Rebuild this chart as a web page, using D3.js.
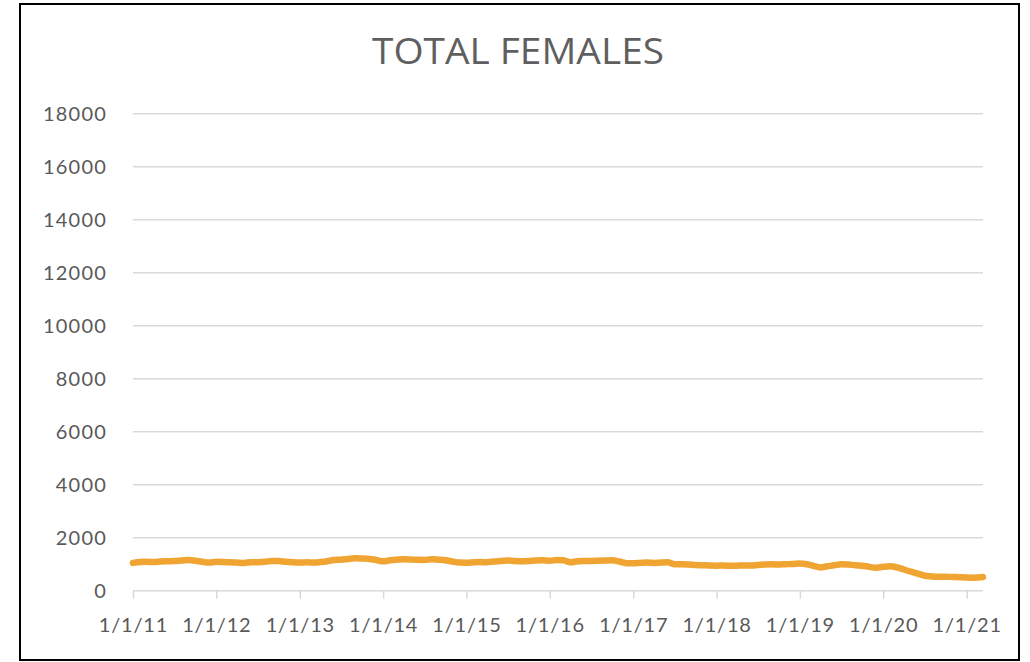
<!DOCTYPE html>
<html>
<head>
<meta charset="utf-8">
<script src="https://cdn.jsdelivr.net/npm/d3@7"></script>
<style>
  body { margin: 0; background: #fff; }
  svg { display: block; }
</style>
</head>
<body>
<div id="chart"></div>
<script>
var wi = 1030;
var he = 662;

var chartTitle = "TOTAL FEMALES";
var startMonth = "2011-01";
var yTicks = [0, 2000, 4000, 6000, 8000, 10000, 12000, 14000, 16000, 18000];
var xTickYears = [2011, 2012, 2013, 2014, 2015, 2016, 2017, 2018, 2019, 2020, 2021];

// monthly totals, Jan 2011 .. Mar 2021
var females = [
  1050, 1080, 1090, 1080, 1100, 1110, 1120, 1140, 1160, 1130, 1090, 1060, // 2011
  1090, 1080, 1075, 1060, 1050, 1070, 1075, 1090, 1125, 1120, 1090, 1070, // 2012
  1060, 1070, 1060, 1080, 1110, 1160, 1170, 1200, 1220, 1215, 1200, 1160, // 2013
  1110, 1150, 1170, 1185, 1180, 1165, 1160, 1185, 1170, 1150, 1100, 1060, // 2014
  1055, 1070, 1080, 1075, 1100, 1120, 1140, 1120, 1110, 1120, 1140, 1150, // 2015
  1130, 1160, 1150, 1070, 1110, 1125, 1120, 1130, 1140, 1150, 1100, 1040, // 2016
  1035, 1050, 1060, 1050, 1060, 1070, 1000, 1000, 990, 970, 960, 950,     // 2017
  945, 950, 940, 945, 950, 950, 970, 990, 995, 990, 1000, 1010,           // 2018
  1030, 1000, 940, 880, 920, 960, 995, 990, 960, 945, 900, 870,           // 2019
  900, 920, 880, 800, 717, 640, 566, 540, 530, 528, 520, 510,             // 2020
  495, 490, 515                                                           // 2021
];

var parseMonth = d3.timeParse("%Y-%m");
var t0 = parseMonth(startMonth);
var dataset = females.map(function(v, i) {
  var dt = d3.timeMonth.offset(t0, i);
  if (i == females.length - 1) dt = d3.timeDay.offset(dt, 12);
  return { date: dt, value: v };
});

var svg = d3.select("#chart")
  .append("svg")
  .attr("width", wi)
  .attr("height", he);

// outer frame
svg.append("rect")
  .attr("x", 20)
  .attr("y", 4)
  .attr("width", 999)
  .attr("height", 656)
  .attr("fill", "#fff")
  .attr("stroke", "#000")
  .attr("stroke-width", 2);

var xScale = d3.scaleTime()
  .domain([new Date(2011, 0, 1), new Date(2021, 0, 1)])
  .range([133, 966.7]);

var yScale = d3.scaleLinear()
  .domain([0, 18000])
  .range([590.7, 113.7]);

var xRight = 983;

// gridlines
svg.append("g")
  .selectAll("line")
  .data(yTicks)
  .enter()
  .append("line")
  .attr("x1", xScale.range()[0])
  .attr("x2", xRight)
  .attr("y1", function(d) { return yScale(d); })
  .attr("y2", function(d) { return yScale(d); })
  .attr("stroke", "#d9d9d9")
  .attr("stroke-width", 1.5);

// y labels
var yAxis = d3.axisLeft(yScale)
  .tickValues(yTicks)
  .tickSize(0)
  .tickPadding(0)
  .tickFormat(d3.format("d"));

var yg = svg.append("g")
  .attr("transform", "translate(107,0)")
  .call(yAxis);
yg.select(".domain").remove();
yg.selectAll("text")
  .attr("fill", "#595959")
  .attr("font-family", "Lato, 'Open Sans', sans-serif")
  .attr("font-size", 20)
  .attr("letter-spacing", 1.2)
  .attr("dy", "0.35em");

// x axis with ticks
var xAxis = d3.axisBottom(xScale)
  .tickValues(xTickYears.map(function(y) { return new Date(y, 0, 1); }))
  .tickSize(8)
  .tickPadding(19)
  .tickFormat(d3.timeFormat("%-m/%-d/%y"));

var xg = svg.append("g")
  .attr("transform", "translate(0," + yScale(0) + ")")
  .call(xAxis);
xg.select(".domain").remove();
xg.selectAll(".tick line")
  .attr("stroke", "#d9d9d9")
  .attr("stroke-width", 1.5);
xg.selectAll("text")
  .attr("fill", "#595959")
  .attr("font-family", "Lato, 'Open Sans', sans-serif")
  .attr("font-size", 20)
  .attr("letter-spacing", 0.8);

// the series
var line = d3.line()
  .x(function(d) { return xScale(d.date); })
  .y(function(d) { return yScale(d.value); })
  .curve(d3.curveMonotoneX);

svg.append("path")
  .datum(dataset)
  .attr("d", line)
  .attr("fill", "none")
  .attr("stroke", "#f0a431")
  .attr("stroke-width", 6.5)
  .attr("stroke-linecap", "round")
  .attr("stroke-linejoin", "round");

// title
svg.append("text")
  .attr("x", 518)
  .attr("y", 64)
  .attr("text-anchor", "middle")
  .attr("fill", "#5f5f5f")
  .attr("font-family", "'Open Sans', sans-serif")
  .attr("font-size", 37)
  .attr("textLength", 292)
  .attr("lengthAdjust", "spacingAndGlyphs")
  .text(chartTitle);
</script>
</body>
</html>
